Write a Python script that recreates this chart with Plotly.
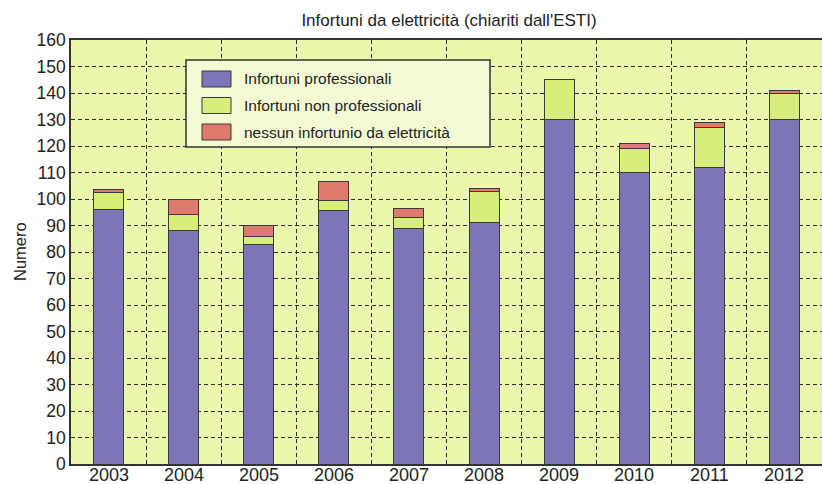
import plotly.graph_objects as go

years = ["2003", "2004", "2005", "2006", "2007", "2008", "2009", "2010", "2011", "2012"]
professionali = [96, 88, 83, 95.5, 89, 91, 130, 110, 112, 130]
non_professionali = [6.5, 6, 3, 4, 4, 12, 15, 9, 15, 10]
nessun_infortunio = [1, 6, 4, 7, 3.5, 1, 0, 2, 2, 1]

series_names = ["Infortuni professionali", "Infortuni non professionali",
                "nessun infortunio da elettricità"]
series_values = [professionali, non_professionali, nessun_infortunio]
colors = ["#7c76b6", "#d6ee7c", "#e07a6c"]

W, H = 822, 484
ML, MR, MT, MB = 71, 0, 40, 20
PW, PH = W - ML - MR, H - MT - MB


def px(x):
    return (x - ML) / PW


def py(y):
    return (H - MB - y) / PH


fig = go.Figure()
for name, vals, col in zip(series_names, series_values, colors):
    fig.add_trace(go.Bar(
        x=years, y=vals, name=name, width=0.4,
        marker=dict(color=col, line=dict(color="#3a3a3a", width=1)),
        showlegend=False,
    ))

# manual legend box
shapes = [dict(type="rect", xref="paper", yref="paper",
               x0=px(186), x1=px(490), y0=py(147), y1=py(60),
               fillcolor="#f4fad4", line=dict(color="#333333", width=1.5), layer="above")]
annotations = []
for i, (name, col) in enumerate(zip(series_names, colors)):
    cy = 79 + i * 26.5
    shapes.append(dict(type="rect", xref="paper", yref="paper",
                       x0=px(202), x1=px(231), y0=py(cy + 8), y1=py(cy - 8),
                       fillcolor=col, line=dict(color="#3a3a3a", width=1), layer="above"))
    annotations.append(dict(xref="paper", yref="paper", x=px(242), y=py(cy),
                            xanchor="left", yanchor="middle", text=name, showarrow=False,
                            font=dict(size=15.5, color="#222222")))

# x tick labels as annotations placed on the category axis (by category index)
for idx, yr in enumerate(years):
    annotations.append(dict(xref="x", yref="paper", x=idx, y=py(475),
                            xanchor="center", yanchor="middle", text=yr, showarrow=False,
                            font=dict(size=18, color="#222222")))

annotations.append(dict(xref="paper", yref="paper", x=px(20), y=py(252),
                        text="Numero", textangle=-90, showarrow=False,
                        xanchor="center", yanchor="middle",
                        font=dict(size=16.5, color="#222222")))

fig.update_layout(
    width=W, height=H,
    margin=dict(l=ML, r=MR, t=MT, b=MB, autoexpand=False),
    barmode="stack",
    paper_bgcolor="white",
    plot_bgcolor="#ecf7ae",
    font=dict(family="Liberation Sans, Arial, sans-serif", color="#222222"),
    title=dict(text="Infortuni da elettricità (chiariti dall'ESTI)",
               x=449 / W, xanchor="center", xref="container",
               y=1 - 20 / H, yanchor="middle", font=dict(size=17, color="#222222")),
    shapes=shapes,
    annotations=annotations,
    xaxis=dict(
        type="category", tickson="boundaries", ticks="", automargin=False,
        showticklabels=False,
        showgrid=True, gridcolor="#2e2e2e", gridwidth=1.2, griddash="4px,3px",
        showline=True, linecolor="#333333", linewidth=1.5, mirror=True,
        range=[-0.5, 9.5],
    ),
    yaxis=dict(
        range=[0, 160], dtick=10, ticks="", automargin=False,
        showgrid=True, gridcolor="#2e2e2e", gridwidth=1.2, griddash="4px,3px",
        showline=True, linecolor="#333333", linewidth=1.5,
        tickfont=dict(size=17.5), zeroline=False,
    ),
)

fig.write_html("out.html")
